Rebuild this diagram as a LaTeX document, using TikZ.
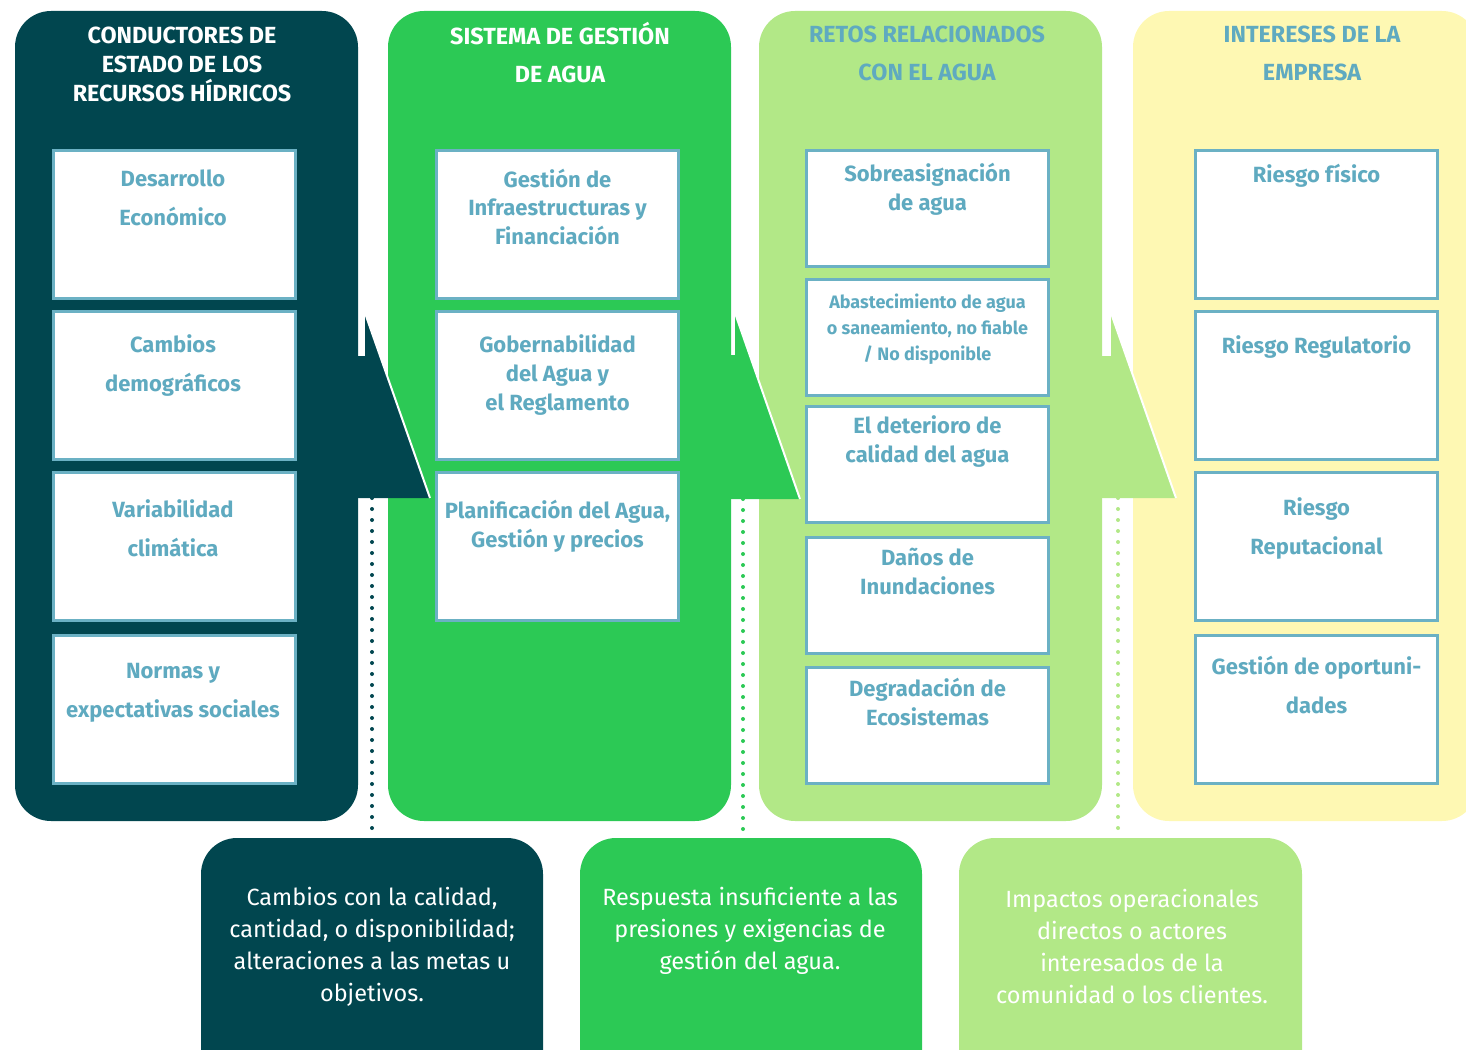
\documentclass[tikz,border=0pt]{standalone}
\usepackage{fontspec}
\setmainfont{Fira Sans}
\usetikzlibrary{positioning}

\definecolor{petroleo}{HTML}{01464F}
\definecolor{verde}{HTML}{2CC955}
\definecolor{verdeclaro}{HTML}{B2E887}
\definecolor{amarillo}{HTML}{FEF8B3}
\definecolor{celeste}{HTML}{5FAAC0}
\definecolor{borde}{HTML}{6BB1C4}

\begin{document}
\begin{tikzpicture}[x=0.75pt,y=-0.75pt]
	\tikzstyle{panel}=[rounded corners=27pt]
	\tikzstyle{caja}=[draw=borde,fill=white,line width=2.25pt,minimum width=181.5pt,inner sep=0pt]
	\tikzstyle{alta}=[caja,minimum height=111pt]
	\tikzstyle{baja}=[caja,minimum height=87pt]
	\tikzstyle{titulo}=[align=center,font=\fontsize{17.5}{21.75}\selectfont\bfseries]
	\tikzstyle{texto}=[align=center,text=celeste,font=\fontsize{16.5}{21.75}\selectfont\bfseries]
	\tikzstyle{abierto}=[align=center,text=celeste,font=\fontsize{16.5}{29.25}\selectfont\bfseries]
	\tikzstyle{chico}=[align=center,text=celeste,font=\fontsize{13.5}{19.5}\selectfont\bfseries]
	\tikzstyle{nota}=[align=center,text=white,font=\fontsize{17.6}{24}\selectfont]
	\tikzstyle{puntos}=[line width=3pt,line cap=round,dash pattern=on 0pt off 8.25pt]
	\tikzstyle{filo}=[white,line width=1.5pt]
	\useasboundingbox (0,0) rectangle (1466,1049);
	\clip (0,0) rectangle (1466,1049);

	% columnas
	\fill[petroleo,panel] (15,11) rectangle (358,821);
	\fill[verde,panel] (388,11) rectangle (731,821);
	\fill[verdeclaro,panel] (759,11) rectangle (1102,821);
	\fill[amarillo,panel] (1133,11) rectangle (1478,821);

	% flechas
	\fill[petroleo] (358,356) -- (365,356) -- (365,313) -- (430,498) -- (358,498) -- cycle;
	\draw[filo] (365,313) -- (430,498);
	\fill[verde] (731,355) -- (735,355) -- (735,313) -- (800,499) -- (731,499) -- cycle;
	\draw[filo] (735,313) -- (800,499);
	\fill[verdeclaro] (1102,356) -- (1111,356) -- (1111,313) -- (1176,498) -- (1102,498) -- cycle;
	\draw[filo] (1111,313) -- (1176,498);

	% cuadros de abajo
	\fill[petroleo,panel] (201,838) rectangle (543,1100);
	\fill[verde,panel] (580,838) rectangle (922,1100);
	\fill[verdeclaro,panel] (959,838) rectangle (1302,1100);

	\coordinate (f1) at (372,498);
	\coordinate (b1) at (372,838);
	\coordinate (f2) at (743,499);
	\coordinate (b2) at (743,838);
	\coordinate (f3) at (1118,498);
	\coordinate (b3) at (1118,838);
	\draw[puntos,petroleo] (f1) -- (b1);
	\draw[puntos,verde] (f2) -- (b2);
	\draw[puntos,verdeclaro] (f3) -- (b3);

	% titulos
	\node[titulo,text=white] (t1) at (182,64) {CONDUCTORES DE\\ESTADO DE LOS\\RECURSOS HÍDRICOS};
	\node[titulo,text=white,font=\fontsize{17.5}{28.5}\selectfont\bfseries] (t2) at (560,53) {SISTEMA DE GESTIÓN\\DE AGUA};
	\node[titulo,text=celeste,font=\fontsize{17.5}{28.5}\selectfont\bfseries] (t3) at (927,53) {RETOS RELACIONADOS\\CON EL AGUA};
	\node[titulo,text=celeste,font=\fontsize{17.5}{28.5}\selectfont\bfseries] (t4) at (1312,53) {INTERESES DE LA\\EMPRESA};

	% conductores
	\node[alta] (c1) at (174.5,224.5) {};
	\node[alta] (c2) at (174.5,385.5) {};
	\node[alta] (c3) at (174.5,546.5) {};
	\node[alta] (c4) at (174.5,709) {};
	\node[abierto] at (173,198) {Desarrollo\\Económico};
	\node[abierto] at (173,366) {Cambios\\demográficos};
	\node[abierto] at (173,528) {Variabilidad\\climática};
	\node[abierto] at (173,693) {Normas y\\expectativas sociales};

	% sistema
	\node[alta] (s1) at (557.5,224.5) {};
	\node[alta] (s2) at (557.5,385.5) {};
	\node[alta] (s3) at (557.5,546.5) {};
	\node[texto] at (557.5,207) {Gestión de\\Infraestructuras y\\Financiación};
	\node[texto] at (557.5,375) {Gobernabilidad\\del Agua y\\el Reglamento};
	\node[texto] at (557.5,526) {Planificación del Agua,\\Gestión y precios};

	% retos
	\node[baja] (r1) at (927.5,208.5) {};
	\node[baja] (r2) at (927.5,337) {};
	\node[baja] (r3) at (927.5,464) {};
	\node[baja] (r4) at (927.5,595) {};
	\node[baja] (r5) at (927.5,725) {};
	\node[texto] at (927.5,189.5) {Sobreasignación\\de agua};
	\node[chico] at (927.5,329) {Abastecimiento de agua\\o saneamiento, no fiable\\/ No disponible};
	\node[texto] at (927.5,442) {El deterioro de\\calidad del agua};
	\node[texto] at (927.5,571.5) {Daños de\\Inundaciones};
	\node[texto] at (927.5,701.5) {Degradación de\\Ecosistemas};

	% intereses
	\node[alta] (i1) at (1316.5,224.5) {};
	\node[alta] (i2) at (1316.5,385.5) {};
	\node[alta] (i3) at (1316.5,546.5) {};
	\node[alta] (i4) at (1316.5,709) {};
	\node[texto] at (1316.5,175.5) {Riesgo físico};
	\node[texto] at (1316.5,347) {Riesgo Regulatorio};
	\node[abierto] at (1316.5,528.5) {Riesgo\\Reputacional};
	\node[abierto] at (1316.5,684.5) {Gestión de oportuni-\\dades};

	% notas
	\node[nota] (n1) at (372,947) {Cambios con la calidad,\\cantidad, o disponibilidad;\\alteraciones a las metas u\\objetivos.};
	\node[nota] (n2) at (750,931) {Respuesta insuficiente a las\\presiones y exigencias de\\gestión del agua.};
	\node[nota] (n3) at (1132,946) {Impactos operacionales\\directos o actores\\interesados de la\\comunidad o los clientes.};
\end{tikzpicture}
\end{document}
